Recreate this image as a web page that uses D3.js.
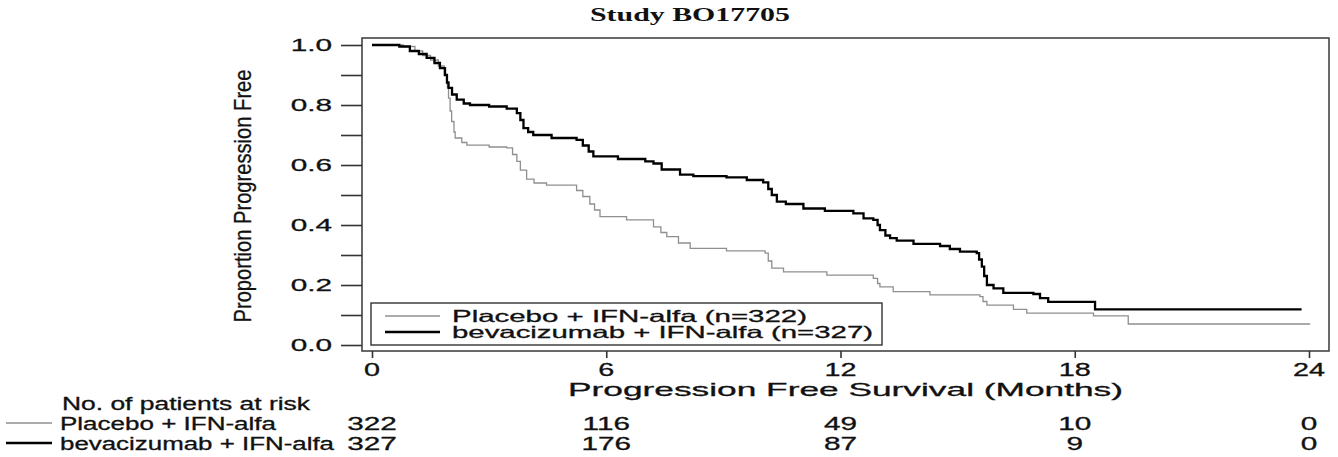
<!DOCTYPE html>
<html>
<head>
<meta charset="utf-8">
<script src="https://cdn.jsdelivr.net/npm/d3@7"></script>
<style>
  body { margin: 0; background: #fff; }
  svg { display: block; }
  text { font-family: "Liberation Sans", Arial, sans-serif; fill: #111; stroke: #111; stroke-width: 0.3px; }
  text.title { stroke: none; }
</style>
</head>
<body>
<svg id="chart" width="1338" height="457"></svg>
<script>
// kaplan-meier steps (months, proportion)
var placeboTime = [0, 0.8, 1.1, 1.3, 1.5, 1.7, 1.85, 1.93, 1.96, 2.0, 2.04, 2.1, 2.13, 2.3, 2.43, 3.0, 3.45, 3.6, 3.71, 3.8, 3.96, 4.15, 4.47, 5.24, 5.4, 5.58, 5.7, 5.84, 6.52, 7.21, 7.4, 7.55, 7.85, 8.15, 9.08, 10.07, 10.15, 10.24, 10.54, 11.65, 12.84, 12.95, 13.01, 13.35, 14.29, 15.57, 15.65, 15.75, 16.43, 16.77, 18.48, 19.37, 24.03];
var placeboSurv = [1.0, 0.995, 0.98, 0.965, 0.95, 0.93, 0.9, 0.86, 0.823, 0.78, 0.745, 0.71, 0.69, 0.675, 0.666, 0.66, 0.657, 0.635, 0.612, 0.583, 0.553, 0.54, 0.533, 0.515, 0.495, 0.47, 0.45, 0.428, 0.417, 0.394, 0.375, 0.361, 0.34, 0.322, 0.314, 0.306, 0.28, 0.256, 0.244, 0.233, 0.222, 0.205, 0.194, 0.178, 0.167, 0.161, 0.145, 0.133, 0.119, 0.106, 0.097, 0.07, 0.07];

var bevTime = [0, 0.7, 0.97, 1.2, 1.4, 1.6, 1.74, 1.87, 1.92, 1.96, 2.05, 2.17, 2.35, 2.51, 3.0, 3.45, 3.71, 3.8, 3.88, 4.0, 4.13, 4.6, 5.24, 5.4, 5.55, 5.67, 6.3, 7.0, 7.21, 7.42, 7.89, 8.23, 9.08, 9.6, 10.02, 10.15, 10.24, 10.37, 10.6, 11.05, 11.6, 12.33, 12.59, 12.84, 12.95, 13.01, 13.15, 13.27, 13.44, 13.87, 14.55, 14.8, 15.06, 15.49, 15.55, 15.62, 15.68, 15.75, 15.92, 16.17, 16.94, 17.11, 17.32, 18.52, 23.81];
var bevSurv = [1.0, 0.995, 0.98, 0.97, 0.957, 0.94, 0.923, 0.9, 0.875, 0.857, 0.835, 0.818, 0.805, 0.8, 0.795, 0.788, 0.773, 0.75, 0.723, 0.71, 0.7, 0.69, 0.684, 0.665, 0.645, 0.629, 0.62, 0.612, 0.605, 0.585, 0.568, 0.563, 0.559, 0.55, 0.542, 0.52, 0.5, 0.478, 0.47, 0.455, 0.447, 0.439, 0.422, 0.417, 0.4, 0.383, 0.365, 0.356, 0.348, 0.337, 0.33, 0.32, 0.311, 0.306, 0.285, 0.261, 0.23, 0.2, 0.189, 0.174, 0.17, 0.156, 0.144, 0.119, 0.119];

var xTicks = [0, 6, 12, 18, 24];
var yTicks = [0, 0.1, 0.2, 0.3, 0.4, 0.5, 0.6, 0.7, 0.8, 0.9, 1.0];
var yLabels = [0, 0.2, 0.4, 0.6, 0.8, 1.0];

var groupNames = ['Placebo + IFN-alfa', 'bevacizumab + IFN-alfa'];
var groupN = [322, 327];
var placeboRisk = [322, 116, 49, 10, 0];
var bevRisk = [327, 176, 87, 9, 0];

var svg = d3.select('#chart');

var x = d3.scaleLinear().domain([0, 24]).range([372, 1309]);
var y = d3.scaleLinear().domain([0, 1]).range([345, 45]);

// the picture is stretched sideways, so text gets stretched too
var stretch = function(sel, sx) {
  return sel.attr('transform', function() {
    var t = d3.select(this);
    return 'translate(' + t.attr('data-x') + ',' + t.attr('data-y') + ') scale(' + sx + ',1)';
  });
};

// title
svg.append('text')
  .attr('class', 'title')
  .attr('x', 690).attr('y', 21)
  .attr('text-anchor', 'middle')
  .attr('font-size', 18.5)
  .attr('font-weight', 'bold')
  .attr('textLength', 200)
  .attr('lengthAdjust', 'spacingAndGlyphs')
  .style('font-family', '"Liberation Serif", "Times New Roman", serif')
  .text('Study BO17705');

// frame
svg.append('rect')
  .attr('x', 362).attr('y', 38)
  .attr('width', 1329 - 362).attr('height', 351 - 38)
  .attr('fill', 'none')
  .attr('stroke', '#444')
  .attr('stroke-width', 1.6);

// y axis ticks
var yAxis = d3.axisLeft(y).tickValues(yTicks).tickSize(21).tickFormat('');
svg.append('g')
  .attr('transform', 'translate(362,0)')
  .call(yAxis)
  .call(function(g) { g.select('.domain').remove(); })
  .selectAll('line').attr('stroke', '#333').attr('stroke-width', 1.6);

svg.selectAll('.ylab')
  .data(yLabels).enter()
  .append('text')
  .attr('class', 'ylab')
  .attr('data-x', 332)
  .attr('data-y', function(d) { return y(d) + 6; })
  .attr('font-size', 17)
  .attr('text-anchor', 'end')
  .text(function(d) { return d.toFixed(1); })
  .call(stretch, 1.75);

svg.append('text')
  .attr('transform', 'translate(251,196) rotate(-90)')
  .attr('text-anchor', 'middle')
  .attr('font-size', 24)
  .attr('textLength', 253)
  .attr('lengthAdjust', 'spacingAndGlyphs')
  .text('Proportion Progression Free');

// x axis ticks
var xAxis = d3.axisBottom(x).tickValues(xTicks).tickSize(7).tickFormat('');
svg.append('g')
  .attr('transform', 'translate(0,351)')
  .call(xAxis)
  .call(function(g) { g.select('.domain').remove(); })
  .selectAll('line').attr('stroke', '#333').attr('stroke-width', 1.6);

svg.selectAll('.xlab')
  .data(xTicks).enter()
  .append('text')
  .attr('class', 'xlab')
  .attr('data-x', function(d) { return x(d); })
  .attr('data-y', 376)
  .attr('font-size', 18)
  .attr('text-anchor', 'middle')
  .text(function(d) { return d; })
  .call(stretch, 1.6);

svg.append('text')
  .attr('x', 568).attr('y', 396)
  .attr('font-size', 19)
  .attr('textLength', 555)
  .attr('lengthAdjust', 'spacingAndGlyphs')
  .text('Progression Free Survival (Months)');

// curves
var line = d3.line()
  .x(function(d) { return x(d[0]); })
  .y(function(d) { return y(d[1]); })
  .curve(d3.curveStepAfter);

var placeboPts = placeboTime.map(function(t, i) { return [t, placeboSurv[i]]; });
var bevPts = bevTime.map(function(t, i) { return [t, bevSurv[i]]; });

svg.append('path')
  .datum(placeboPts)
  .attr('d', line)
  .attr('fill', 'none')
  .attr('stroke', '#8f8f8f')
  .attr('stroke-width', 1.3);

svg.append('path')
  .datum(bevPts)
  .attr('d', line)
  .attr('fill', 'none')
  .attr('stroke', '#000')
  .attr('stroke-width', 2.3);

// legend
var styles = [{c: '#8f8f8f', w: 1.3}, {c: '#000', w: 2.3}];
var legendLen = [355, 421];
svg.append('rect')
  .attr('x', 371).attr('y', 303)
  .attr('width', 882 - 371).attr('height', 345 - 303)
  .attr('fill', '#fff')
  .attr('stroke', '#333')
  .attr('stroke-width', 1.4);

groupNames.forEach(function(name, i) {
  var ly = 316 + i * 16;
  svg.append('line')
    .attr('x1', 385).attr('x2', 440)
    .attr('y1', ly).attr('y2', ly)
    .attr('stroke', styles[i].c)
    .attr('stroke-width', styles[i].w);
  svg.append('text')
    .attr('x', 452).attr('y', ly + 6)
    .attr('font-size', 16.5)
    .attr('textLength', legendLen[i])
    .attr('lengthAdjust', 'spacingAndGlyphs')
    .text(name + ' (n=' + groupN[i] + ')');
});

// number at risk table
svg.append('text')
  .attr('x', 62).attr('y', 410)
  .attr('font-size', 17.5)
  .attr('textLength', 248)
  .attr('lengthAdjust', 'spacingAndGlyphs')
  .text('No. of patients at risk');

var riskRows = [placeboRisk, bevRisk];
var riskLen = [216, 274];
groupNames.forEach(function(name, i) {
  var base = 430 + i * 20;
  svg.append('line')
    .attr('x1', 6).attr('x2', 52)
    .attr('y1', base - 7).attr('y2', base - 7)
    .attr('stroke', styles[i].c)
    .attr('stroke-width', styles[i].w);
  svg.append('text')
    .attr('x', 60).attr('y', base)
    .attr('font-size', 17.5)
    .attr('textLength', riskLen[i])
    .attr('lengthAdjust', 'spacingAndGlyphs')
    .text(name);
  svg.selectAll('.risk' + i)
    .data(riskRows[i]).enter()
    .append('text')
    .attr('class', 'risk' + i)
    .attr('data-x', function(d, j) { return x(xTicks[j]); })
    .attr('data-y', base)
    .attr('font-size', 17.5)
    .attr('text-anchor', 'middle')
    .text(function(d) { return d; })
    .call(stretch, 1.7);
});
</script>
</body>
</html>
